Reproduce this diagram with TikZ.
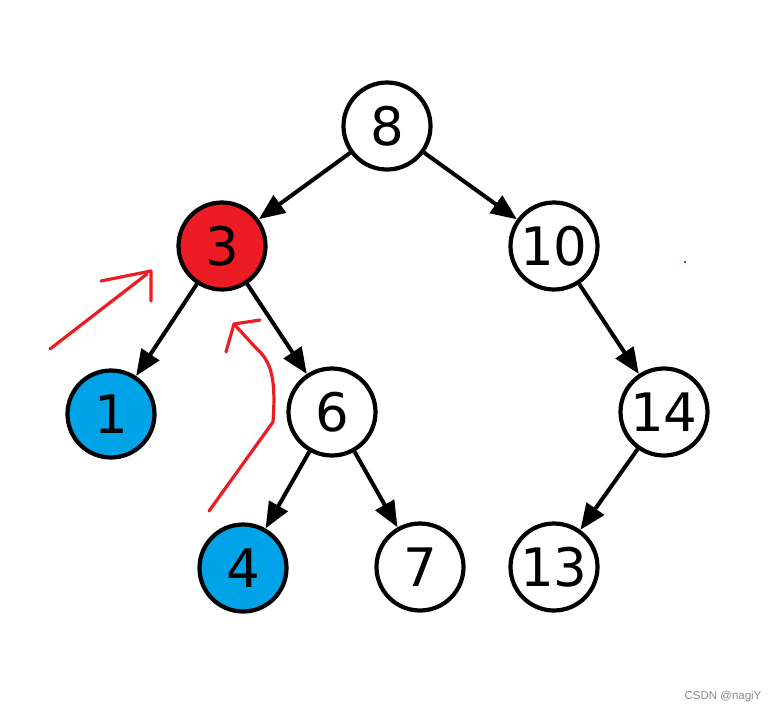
\documentclass[tikz,border=0pt]{standalone}
\usepackage{fontspec}
\setmainfont{DejaVu Sans}
\newfontfamily\wmfont{Liberation Sans}
\usetikzlibrary{arrows.meta}
\definecolor{nodered}{RGB}{237,28,36}
\definecolor{nodeblue}{RGB}{0,162,232}
\definecolor{penred}{RGB}{237,28,36}
\begin{document}
\begin{tikzpicture}[x=1pt,y=-1pt,
  tnode/.style={circle,draw=black,line width=4.2pt,minimum size=87pt,inner sep=0pt,fill=white,
    font=\fontsize{53}{53}\selectfont},
  redn/.style={tnode,fill=nodered},
  bluen/.style={tnode,fill=nodeblue},
  edge/.style={draw=black,line width=4pt,-{Triangle[length=26pt,width=21pt]}},
  pen/.style={draw=penred,line width=3.2pt,line cap=round,line join=round}]
\useasboundingbox (0,0) rectangle (773,713);
\node[tnode] (n8) at (387,126) {8};
\node[redn] (n3) at (222,246) {3};
\node[tnode] (n10) at (554,246) {10};
\node[bluen] (n1) at (111,414) {1};
\node[tnode] (n6) at (332,412) {6};
\node[tnode] (n14) at (664,412) {14};
\node[bluen] (n4) at (243,568) {4};
\node[tnode] (n7) at (420,567) {7};
\node[tnode] (n13) at (554,567) {13};
\draw[edge] (n8) -- (n3);
\draw[edge] (n8) -- (n10);
\draw[edge] (n3) -- (n1);
\draw[edge] (n3) -- (n6);
\draw[edge] (n10) -- (n14);
\draw[edge] (n6) -- (n4);
\draw[edge] (n6) -- (n7);
\draw[edge] (n14) -- (n13);
% red annotations
\coordinate (a1) at (50,349);
\coordinate (a2) at (147,274);
\coordinate (a3) at (101,281);
\coordinate (a4) at (151,271);
\coordinate (a5) at (151,301);
\draw[pen] (a1) -- (a2);
\draw[pen] (a3) -- (a4) -- (a5);
\coordinate (b1) at (209,511);
\coordinate (b2) at (273,422);
\coordinate (b3) at (234,324);
\coordinate (b4) at (226,352);
\coordinate (b5) at (260,320);
\draw[pen] (b1) -- (b2) .. controls (276,380) and (272,362) .. (256,348) -- (b3);
\draw[pen] (b4) -- (b3) -- (b5);
\fill[penred] (684,261) rectangle (686,263);
\node[text=black!45,font=\fontsize{11.5}{11.5}\selectfont\wmfont,anchor=center] (wm) at (723,697) {CSDN @nagiY};
\end{tikzpicture}
\end{document}
